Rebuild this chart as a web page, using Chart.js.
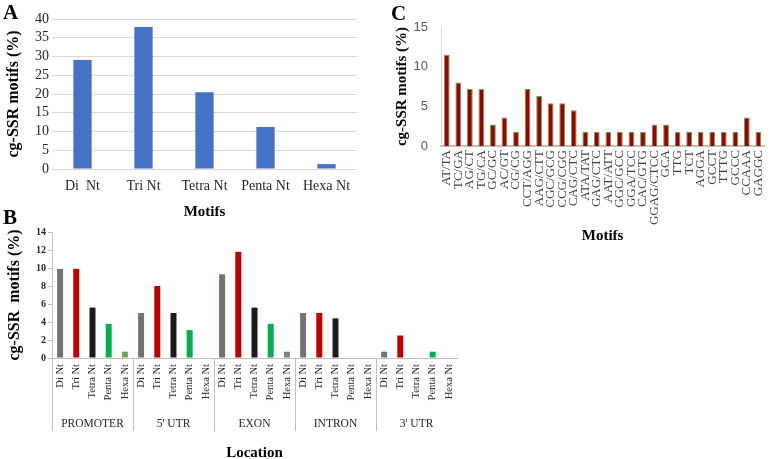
<!DOCTYPE html>
<html><head><meta charset="utf-8">
<script src="https://cdn.jsdelivr.net/npm/chart.js@4"></script>
<style>
html,body{margin:0;padding:0;background:#fff;width:778px;height:459px;overflow:hidden;position:relative}
canvas{position:absolute}
.lbl{position:absolute;font:bold 21px "Liberation Serif",serif;color:#000;line-height:1}
</style></head><body>
<canvas id="ca" width="370" height="222" style="left:0;top:0"></canvas>
<canvas id="cb" width="470" height="256" style="left:0;top:205px"></canvas>
<canvas id="cc" width="393" height="245" style="left:385px;top:0"></canvas>
<div class="lbl" style="left:3px;top:2px">A</div>
<div class="lbl" style="left:3px;top:207px">B</div>
<div class="lbl" style="left:391px;top:3px">C</div>
<script>
// ---------- Panel A data ----------
const motifClassesA = ["Di  Nt", "Tri Nt", "Tetra Nt", "Penta Nt", "Hexa Nt"];
const motifPercentA = [29.1, 37.9, 20.5, 11.2, 1.3];
const yTicksA = [0, 5, 10, 15, 20, 25, 30, 35, 40];

// ---------- Panel B data ----------
const locationsB = ["PROMOTER", "5' UTR", "EXON", "INTRON", "3' UTR"];
const motifClassesB = ["Di Nt", "Tri Nt", "Tetra Nt", "Penta Nt", "Hexa Nt"];
const promoterB = [9.9, 9.9, 5.6, 3.8, 0.7];
const utr5B = [5.0, 8.0, 5.0, 3.1, 0];
const exonB = [9.3, 11.8, 5.6, 3.8, 0.7];
const intronB = [5.0, 5.0, 4.4, 0, 0];
const utr3B = [0.7, 2.5, 0, 0.7, 0];
const yTicksB = [0, 2, 4, 6, 8, 10, 12, 14];

// ---------- Panel C data ----------
const motifsC = ["AT/TA","TC/GA","AG/CT","TG/CA","GC/GC","AC/GT","CG/CG","CCT/AGG","AAG/CTT","CGC/GCG","CCG/CGG","CAG/CTC","ATA/TAT","GAG/CTC","AAT/ATT","GGC/GCC","GGA/TCC","CAC/GTG","GGAG/CTCC","GCA","TTG","TCT","AGGA","GCCT","TTTG","GCCC","CCAAA","GAGGC"];
const motifPercentC = [11.5, 8.0, 7.2, 7.2, 2.7, 3.6, 1.8, 7.2, 6.3, 5.4, 5.4, 4.5, 1.8, 1.8, 1.8, 1.8, 1.8, 1.8, 2.7, 2.7, 1.8, 1.8, 1.8, 1.8, 1.8, 1.8, 3.6, 1.8];
const yTicksC = [0, 5, 10, 15];

const SERIF = '"Liberation Serif","Times New Roman",serif';
const SANS = '"Liberation Sans",Arial,sans-serif';

// ===== Chart A =====
new Chart(document.getElementById('ca'), {
  type: 'bar',
  data: { labels: motifClassesA, datasets: [{ data: motifPercentA, backgroundColor: '#4472c4', barPercentage: 0.3, categoryPercentage: 1 }] },
  options: {
    responsive: false, animation: false, devicePixelRatio: 1,
    layout: { padding: { top: 19, right: 13, left: 0, bottom: 0 } },
    plugins: { legend: { display: false }, tooltip: { enabled: false } },
    scales: {
      x: {
        afterFit: s => { s.height = 53; },
        grid: { display: false, drawTicks: false }, border: { display: false },
        ticks: { font: { family: SERIF, size: 14 }, color: '#262626', padding: 9, maxRotation: 0, autoSkip: false },
        title: { display: true, text: 'Motifs', font: { family: SERIF, size: 15, weight: 'bold' }, color: '#000', padding: { top: 0, bottom: 1 } }
      },
      y: {
        min: 0, max: 40,
        afterFit: s => { s.width = 52; },
        afterBuildTicks: s => { s.ticks = yTicksA.map(v => ({ value: v })); },
        grid: { color: '#d9d9d9', drawTicks: false }, border: { display: false },
        ticks: { font: { family: SERIF, size: 14 }, color: '#262626', padding: 3, autoSkip: false },
        title: { display: true, text: 'cg-SSR motifs (%)', font: { family: SERIF, size: 16, weight: 'bold' }, color: '#000', padding: { top: 4, bottom: 0 } }
      }
    }
  }
});

// ===== Chart B =====
const valuesB = [].concat(promoterB, utr5B, exonB, intronB, utr3B);
const labelsB = [];
locationsB.forEach(() => motifClassesB.forEach(m => labelsB.push(m)));
const classColorsB = ['#767171', '#c00000', '#1a1a1a', '#00b050', '#7f7f7f'];
const colorsB = valuesB.map((v, i) => (i === 4 ? '#6aa356' : classColorsB[i % 5]));

const groupPlugin = {
  id: 'groups',
  afterDraw(chart) {
    const x = chart.scales.x, ctx = chart.ctx, y0 = chart.chartArea.bottom;
    const n = motifClassesB.length;
    const half = (x.getPixelForValue(1) - x.getPixelForValue(0)) / 2;
    ctx.save();
    ctx.strokeStyle = '#bfbfbf'; ctx.lineWidth = 1;
    for (let g = 0; g < locationsB.length; g++) {
      const xs = Math.round(x.getPixelForValue(g * n) - half) + 0.5;
      ctx.beginPath(); ctx.moveTo(xs, y0); ctx.lineTo(xs, y0 + 73); ctx.stroke();
      const xc = (x.getPixelForValue(g * n) + x.getPixelForValue(g * n + n - 1)) / 2;
      ctx.fillStyle = '#262626';
      ctx.font = '11.5px ' + SERIF;
      ctx.textAlign = 'center'; ctx.textBaseline = 'middle';
      ctx.fillText(locationsB[g], xc, y0 + 66);
    }
    ctx.restore();
  }
};

new Chart(document.getElementById('cb'), {
  type: 'bar',
  data: { labels: labelsB, datasets: [{ data: valuesB, backgroundColor: colorsB, barPercentage: 0.37, categoryPercentage: 1 }] },
  options: {
    responsive: false, animation: false, devicePixelRatio: 1,
    layout: { padding: { top: 27, right: 13, left: 0, bottom: 0 } },
    plugins: { legend: { display: false }, tooltip: { enabled: false } },
    scales: {
      x: {
        afterFit: s => { s.height = 103; },
        grid: { display: false, drawTicks: false }, border: { display: true, color: '#bfbfbf' },
        ticks: { font: { family: SERIF, size: 10.5 }, color: '#262626', padding: 6, maxRotation: 90, minRotation: 90, autoSkip: false },
        title: { display: true, text: 'Location', font: { family: SERIF, size: 15, weight: 'bold', lineHeight: 1 }, color: '#000', padding: { top: 0, bottom: 0 } }
      },
      y: {
        min: 0, max: 14,
        afterFit: s => { s.width = 52; },
        afterBuildTicks: s => { s.ticks = yTicksB.map(v => ({ value: v })); },
        grid: { drawOnChartArea: false, color: '#bfbfbf', tickLength: 4 }, border: { display: true, color: '#bfbfbf' },
        ticks: { font: { family: SERIF, size: 10, weight: 'bold' }, color: '#262626', padding: 2, autoSkip: false },
        title: { display: true, text: 'cg-SSR  motifs (%)', font: { family: SERIF, size: 16, weight: 'bold' }, color: '#000', padding: { top: 5, bottom: 0 } }
      }
    }
  },
  plugins: [groupPlugin]
});

// ===== Chart C =====
new Chart(document.getElementById('cc'), {
  type: 'bar',
  data: { labels: motifsC, datasets: [{ data: motifPercentC, backgroundColor: '#a00000', borderColor: '#4caf50', borderWidth: 1, barPercentage: 0.5, categoryPercentage: 1 }] },
  options: {
    responsive: false, animation: false, devicePixelRatio: 1,
    layout: { padding: { top: 27, right: 1, left: 0, bottom: 0 } },
    plugins: { legend: { display: false }, tooltip: { enabled: false } },
    scales: {
      x: {
        afterFit: s => { s.height = 99; },
        grid: { display: false, drawTicks: false }, border: { display: true, color: '#bfbfbf', width: 2 },
        ticks: { font: { family: SERIF, size: 13 }, color: '#404040', padding: 4, maxRotation: 90, minRotation: 90, autoSkip: false },
        title: { display: true, text: 'Motifs', font: { family: SERIF, size: 15, weight: 'bold' }, color: '#000', padding: { top: 0, bottom: 0 } }
      },
      y: {
        min: 0, max: 15,
        afterFit: s => { s.width = 56; },
        afterBuildTicks: s => { s.ticks = yTicksC.map(v => ({ value: v })); },
        grid: { display: false, drawTicks: false }, border: { display: true, color: '#d9d9d9' },
        ticks: { font: { family: SANS, size: 13 }, color: '#595959', padding: 13, autoSkip: false },
        title: { display: true, text: 'cg-SSR motifs (%)', font: { family: SERIF, size: 15, weight: 'bold' }, color: '#000', padding: { top: 8, bottom: 0 } }
      }
    }
  }
});
</script>
</body></html>
